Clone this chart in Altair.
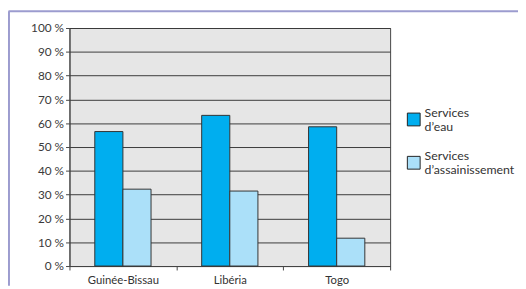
import altair as alt
import pandas as pd

countries = ["Guinée-Bissau", "Libéria", "Togo"]
series = ["Services\nd’eau", "Services\nd’assainissement"]
eau = [56.5, 63.3, 58.5]
assain = [32.3, 31.5, 11.7]
colors = ["#00AEEF", "#ABE0F9"]
y_ticks = list(range(0, 101, 10))

rows = []
for i, c in enumerate(countries):
    rows.append({"pays": c, "serie": series[0], "valeur": eau[i]})
    rows.append({"pays": c, "serie": series[1], "valeur": assain[i]})
df = pd.DataFrame(rows)

FONT = "Lato"

bars = alt.Chart(df).mark_bar(stroke="#333333", strokeWidth=1).encode(
    x=alt.X("pays:N", sort=countries,
            scale=alt.Scale(paddingInner=0, paddingOuter=0),
            axis=alt.Axis(title=None, labelAngle=0, tickBand="extent",
                          domainColor="#444444", tickColor="#444444", tickSize=4,
                          labelPadding=5, labelFontSize=11.5, labelColor="#333333",
                          labelFont=FONT, grid=False)),
    xOffset=alt.XOffset("serie:N", sort=series,
                        scale=alt.Scale(paddingInner=0, paddingOuter=0.9)),
    y=alt.Y("valeur:Q", scale=alt.Scale(domain=[0, 100], nice=False),
            axis=alt.Axis(title=None, values=y_ticks, labelExpr="datum.value + ' %'",
                          grid=True, gridColor="#3a3a3a", gridWidth=1,
                          domainColor="#444444", tickColor="#444444", tickSize=4,
                          labelPadding=2, labelFontSize=12, labelColor="#3a3a3a",
                          labelFont=FONT)),
    color=alt.Color("serie:N", sort=series,
                    scale=alt.Scale(domain=series, range=colors),
                    legend=alt.Legend(title=None, orient="none", legendX=343, legendY=86,
                                      padding=0, symbolType="square", symbolSize=169,
                                      symbolStrokeColor="#222222", symbolStrokeWidth=1,
                                      labelExpr="split(datum.label, '\\n')",
                                      labelBaseline="bottom",
                                      labelFontSize=12.5, labelFont=FONT, labelColor="#333333",
                                      labelLimit=300, labelOffset=4, rowPadding=17)),
)

frame = pd.DataFrame({"k": [0]})
top_rule = alt.Chart(frame).mark_rule(color="#9c9ccf", strokeWidth=2).encode(
    x=alt.value(-62), x2=alt.value(470), y=alt.value(-17))
left_rule = alt.Chart(frame).mark_rule(color="#9c9ccf", strokeWidth=2).encode(
    x=alt.value(-61.5), y=alt.value(-17), y2=alt.value(262))

chart = alt.layer(top_rule, left_rule, bars).properties(
    width=326, height=242,
    autosize=alt.AutoSizeParams(type="none"),
    padding={"left": 62.5, "top": 18, "right": 130, "bottom": 21},
).configure_view(fill="#e6e6e6", stroke="#444444", strokeWidth=1)

chart.save("out.html", embed_options={"renderer": "svg", "actions": False})
